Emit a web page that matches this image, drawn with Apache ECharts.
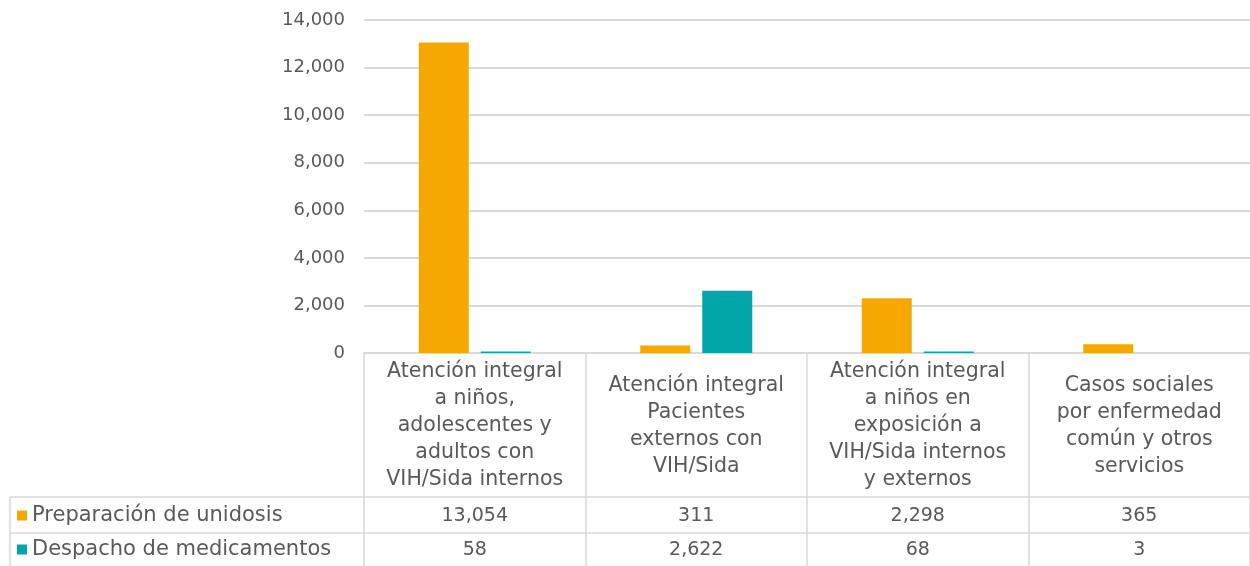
<!DOCTYPE html>
<html>
<head>
<meta charset="utf-8">
<script src="https://cdn.jsdelivr.net/npm/echarts@6/dist/echarts.min.js"></script>
<style>
  html, body { margin: 0; padding: 0; background: #fff; }
  #chart { width: 1250px; height: 566px; }
</style>
</head>
<body>
<div id="chart"></div>
<script>
const categories = [
  'Atención integral\na niños,\nadolescentes y\nadultos con\nVIH/Sida internos',
  'Atención integral\nPacientes\nexternos con\nVIH/Sida',
  'Atención integral\na niños en\nexposición a\nVIH/Sida internos\ny externos',
  'Casos sociales\npor enfermedad\ncomún y otros\nservicios'
];
const seriesNames = ['Preparación de unidosis', 'Despacho de medicamentos'];
const unidosis = [13054, 311, 2298, 365];
const despacho = [58, 2622, 68, 3];
const yTicks = { min: 0, max: 14000, interval: 2000 };

const ORANGE = '#F4A800';
const TEAL = '#00A6A8';
const TEXT = '#595959';
const LINE = '#d9d9d9';
const FONT = 'DejaVu Sans';

// layout
const W = 1250, H = 566;
const gridLeft = 364, gridTop = 20, gridBottom = 213;
const row1Y = 497, row2Y = 533;     // table row borders
const tableLeft = 10;

const fmt = v => v.toLocaleString('en-US');

const chart = echarts.init(document.getElementById('chart'));

const hLine = y => ({
  type: 'line',
  shape: { x1: tableLeft, y1: y, x2: W, y2: y },
  style: { stroke: LINE, lineWidth: 1.5 }
});

// value rows of the data table, hung under the category axis
const valueAxis = (vals, margin) => ({
  type: 'category',
  position: 'bottom',
  data: vals.map(fmt),
  axisLine: { show: false },
  axisTick: { show: false },
  axisLabel: { interval: 0, color: TEXT, fontSize: 19, fontFamily: FONT, verticalAlign: 'middle', margin: margin }
});

const option = {
  animation: false,
  textStyle: { fontFamily: FONT },
  grid: { left: gridLeft, right: 0, top: gridTop, bottom: gridBottom, outerBoundsMode: 'none', containLabel: false },
  legend: {
    orient: 'vertical',
    left: 17,
    top: 505,
    padding: 0,
    itemGap: 13,
    itemWidth: 10,
    itemHeight: 10,
    icon: 'rect',
    textStyle: { color: TEXT, fontSize: 21, fontFamily: FONT, lineHeight: 21 },
    data: seriesNames
  },
  xAxis: [
    {
      type: 'category',
      position: 'bottom',
      data: categories,
      axisLine: { lineStyle: { color: LINE, width: 2 } },
      axisTick: { show: true, length: gridBottom, lineStyle: { color: LINE, width: 1.5 } },
      axisLabel: {
        interval: 0, color: TEXT, fontSize: 20.5, fontFamily: FONT,
        lineHeight: 27, verticalAlign: 'middle', margin: 73, align: 'center'
      }
    },
    valueAxis(unidosis, 163),
    valueAxis(despacho, 197)
  ],
  yAxis: {
    type: 'value',
    min: yTicks.min,
    max: yTicks.max,
    interval: yTicks.interval,
    axisLine: { show: false },
    axisTick: { show: false },
    axisLabel: { color: TEXT, fontSize: 18, fontFamily: FONT, margin: 19, formatter: v => fmt(v) },
    splitLine: { lineStyle: { color: LINE, width: 2 } }
  },
  series: [
    { name: seriesNames[0], type: 'bar', data: unidosis, barWidth: 50, barGap: '24%', itemStyle: { color: ORANGE } },
    { name: seriesNames[1], type: 'bar', data: despacho, barWidth: 50, barGap: '24%', itemStyle: { color: TEAL } }
  ],
  graphic: [
    hLine(row1Y),
    hLine(row2Y),
    {
      type: 'line',
      shape: { x1: tableLeft, y1: row1Y, x2: tableLeft, y2: H },
      style: { stroke: LINE, lineWidth: 1.5 }
    }
  ]
};

chart.setOption(option);
</script>
</body>
</html>
